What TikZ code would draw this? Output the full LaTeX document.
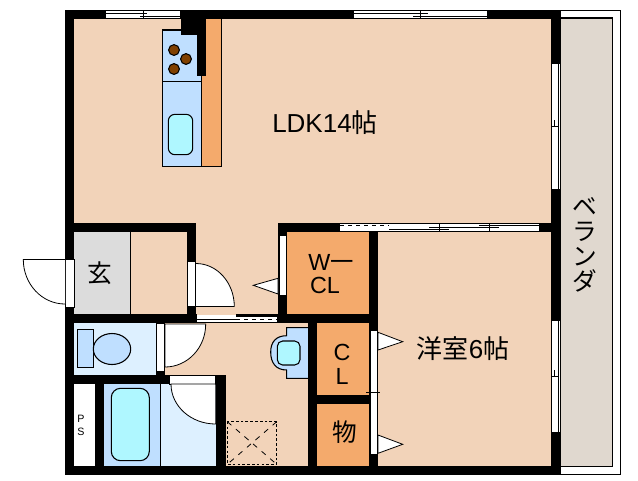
\documentclass[tikz,border=0pt]{standalone}
\usepackage{fontspec}
\setmainfont{Liberation Sans}
\newfontfamily\jpfont{Noto Sans CJK JP}
\definecolor{floorc}{HTML}{F2D3B9}
\definecolor{closetc}{HTML}{F4AA6C}
\definecolor{verandac}{HTML}{E0D8CF}
\definecolor{entryc}{HTML}{DCDCDC}
\definecolor{bluec}{HTML}{BFDFFF}
\definecolor{paleblue}{HTML}{DDF0FF}
\definecolor{cyanc}{HTML}{AFF7FF}
\definecolor{burnerc}{HTML}{804000}
\tikzset{
	wall/.style={fill=black},
	line/.style={draw=black, line width=0.8pt},
	thin line/.style={draw=black, line width=0.6pt},
	opening/.style={fill=white, draw=black, line width=0.6pt},
	door/.style={fill=white, draw=black, line width=0.6pt},
	fixture/.style={fill=bluec, draw=black, line width=0.8pt},
	basin/.style={fill=cyanc, draw=black, line width=0.8pt},
	room/.style={inner sep=0pt, font=\fontsize{19.5}{19.5}\selectfont},
	closet/.style={inner sep=0pt, font=\fontsize{17.5}{17.5}\selectfont},
	kana/.style={inner sep=0pt, font=\fontsize{18.5}{18.7}\selectfont\jpfont},
	small/.style={inner sep=0pt, font=\fontsize{8}{8}\selectfont},
}
\begin{document}
\begin{tikzpicture}[x=0.75pt,y=-0.75pt]
	\useasboundingbox (0,0) rectangle (638,480);
	% veranda
	\draw[line] (560,10.5) rectangle (620.5,474.5);
	\path[fill=verandac, line, draw=black] (560,18) rectangle (612.5,466.5);
	% floors
	\fill[floorc] (70,15) rectangle (555,470);
	\fill[closetc] (283,228) rectangle (373,318);
	\fill[closetc] (313,319) rectangle (373,470);
	\draw[fill=entryc, thin line] (70,228) rectangle (130.3,318);
	\fill[paleblue] (70,319) rectangle (160,380);
	\fill[paleblue] (160,380) rectangle (220,470);
	\fill[bluec] (100,380) rectangle (160.3,470);
	\draw[thin line] (160.3,380) -- (160.3,470);
	\fill[white] (70,380) rectangle (100,470);
	% kitchen
	\draw[fill=closetc, line] (201.5,15) rectangle (221.3,166.3);
	\draw[fixture] (162.3,30) rectangle (201.5,166.3);
	\draw[line] (162.3,81.3) -- (201.5,81.3);
	\draw[basin, rounded corners=5] (168.3,114.3) rectangle (192.7,154.7);
	\draw[fill=burnerc, line] (174,50) circle (5.4);
	\draw[fill=burnerc, line] (186,59) circle (5.4);
	\draw[fill=burnerc, line] (174,69) circle (5.4);
	% toilet, bath and wash basin
	\draw[fixture] (77.3,329.3) rectangle (93.7,367.7);
	\draw[fixture] (112,349) ellipse (18.7 and 15.5);
	\draw[basin, rounded corners=7] (111.3,388.3) rectangle (149.3,460.7);
	\draw[fixture] (310,327.7) -- (286.7,327.7) -- (286.7,335.7) .. controls (276,335.7) and (270.7,342) .. (270.7,352) .. controls (270.7,363) and (276,370) .. (286.7,370) -- (286.7,378.3) -- (310,378.3) -- cycle;
	\draw[basin, rounded corners=4] (277.3,341) rectangle (300,365);
	\draw[thin line, dash pattern=on 2pt off 1.6pt] (227.3,421.7) rectangle (276.7,464.3);
	\draw[thin line, dash pattern=on 4pt off 4.5pt] (227.3,421.7) -- (276.7,464.3);
	\draw[thin line, dash pattern=on 4pt off 4.5pt] (276.7,421.7) -- (227.3,464.3);
	% walls
	\path[wall] (65,10) rectangle (560,19);
	\path[wall] (65,466) rectangle (560,475);
	\path[wall] (65,10) rectangle (74,475);
	\path[wall] (551,10) rectangle (560,475);
	\path[wall] (181,19) rectangle (206,35);
	\path[wall] (197,35) rectangle (206,76);
	\path[wall] (65,223.3) rectangle (195.7,232);
	\path[wall] (186.7,223.3) rectangle (195.7,323);
	\path[wall] (65,314) rectangle (197,323);
	\path[wall] (276,314) rectangle (378,323);
	\path[wall] (278.3,223.3) rectangle (287,323);
	\path[wall] (278.3,223.3) rectangle (551,232);
	\path[wall] (369,223.3) rectangle (378,475);
	\path[wall] (308.3,314) rectangle (317,475);
	\path[wall] (308.3,395) rectangle (378,403.7);
	\path[wall] (65,375) rectangle (225.7,384);
	\path[wall] (215.7,375) rectangle (225.7,475);
	\path[wall] (95,375) rectangle (104,475);
	\path[wall] (156,323) rectangle (165,384);
	% windows
	\fill[white] (106,10) rectangle (180,19);
	\draw[thin line] (106,10.4) -- (180,10.4);
	\draw[thin line] (106,18.6) -- (180,18.6);
	\draw[thin line] (106,13.3) -- (146.7,13.3);
	\draw[thin line] (140,16.7) -- (180,16.7);
	\draw[thin line] (143.3,10.4) -- (143.3,18.6);
	\fill[white] (354,10) rectangle (487,19);
	\draw[thin line] (354,10.4) -- (487,10.4);
	\draw[thin line] (354,18.6) -- (487,18.6);
	\draw[thin line] (354,13.3) -- (428,13.3);
	\draw[thin line] (413,16.7) -- (487,16.7);
	\draw[thin line] (420,10.4) -- (420,18.6);
	\fill[floorc] (340,222) rectangle (539,223);
	\fill[white] (340,223) rectangle (539,231.5);
	\draw[thin line] (340,223.3) -- (539,223.3);
	\draw[thin line] (340,231.2) -- (539,231.2);
	\draw[thin line, dashed] (340,225.3) -- (389,225.3);
	\draw[line] (389,229.7) -- (449,229.7);
	\draw[thin line] (429,227.3) -- (499,227.3);
	\draw[thin line] (479,225.3) -- (539,225.3);
	\draw[thin line] (439.4,223.3) -- (439.4,231.2);
	\draw[thin line] (489.4,223.3) -- (489.4,231.2);
	\fill[white] (551,64) rectangle (560,189.3);
	\draw[thin line] (551.7,64) -- (551.7,189.3);
	\draw[thin line] (558,64) -- (558,189.3);
	\draw[thin line] (551,126.3) -- (558,126.3);
	\draw[thin line] (554.7,120) -- (554.7,126.3);
	\draw[thin line] (558,126.3) -- (558,133);
	\fill[white] (551,321) rectangle (560,432);
	\draw[thin line] (551.7,321) -- (551.7,432);
	\draw[thin line] (558,321) -- (558,432);
	\draw[thin line] (551,376) -- (558,376);
	\draw[thin line] (554.7,370) -- (554.7,376);
	% sliding door
	\fill[white] (197,314.6) rectangle (276.5,322.5);
	\path[wall] (236,314) rectangle (276.5,317);
	\draw[thin line] (197,319) -- (236,319);
	\draw[thin line, dashed] (236,319) -- (276.5,319);
	\draw[thin line] (197,322) -- (276.5,322);
	% door openings
	\draw[opening] (65.5,259.5) rectangle (74,307.3);
	\draw[opening] (187,261.7) rectangle (195.7,306.7);
	\draw[opening] (279,235) rectangle (286.3,295.3);
	\draw[opening] (370,330) rectangle (377.5,454.3);
	\draw[opening] (156.7,323) rectangle (164.3,371);
	\draw[opening] (169,375.5) rectangle (215.7,384);
	% doors
	\draw[door] (65,259.5) -- (23.3,259.5) arc[start angle=180, end angle=90, x radius=41.7, y radius=44.5];
	\draw[door] (196,306.5) -- (234.3,306.5) arc[start angle=0, end angle=-90, x radius=38.3, y radius=43];
	\draw[door] (165,324) -- (205.7,324) arc[start angle=0, end angle=90, x radius=40.7, y radius=43] -- cycle;
	\draw[door] (215.7,384) -- (171,384) arc[start angle=180, end angle=90, x radius=44.7, y radius=40] -- cycle;
	\draw[door] (278,278.3) -- (253.3,285.3) -- (278,294) -- cycle;
	\draw[door] (378,332.3) -- (402.7,341.7) -- (378,350) -- cycle;
	\draw[door] (378,435) -- (402.7,444.3) -- (378,453.3) -- cycle;
	\draw[thin line] (366,392.3) -- (380,392.3);
	% labels
	\node (LDK) at (325,123) [room] {LDK14{\jpfont 帖}};
	\node (Yoshitsu) at (463,349) [room] {{\jpfont 洋室}6{\jpfont 帖}};
	\node (Genkan) at (100,273) [kana] {玄};
	\node (W) at (331,262) [closet] {W{\jpfont 一}};
	\node (CLw) at (325,285.5) [closet] {CL};
	\node (C) at (342,352) [closet] {C};
	\node (L) at (342,376.7) [closet] {L};
	\node (Mono) at (345,432) [kana] {物};
	\node (P) at (81,419) [small] {P};
	\node (S) at (81,431.7) [small] {S};
	\node (Veranda) at (585,244.5) [kana, align=center] {ベ\\ラ\\ン\\ダ};
\end{tikzpicture}
\end{document}
